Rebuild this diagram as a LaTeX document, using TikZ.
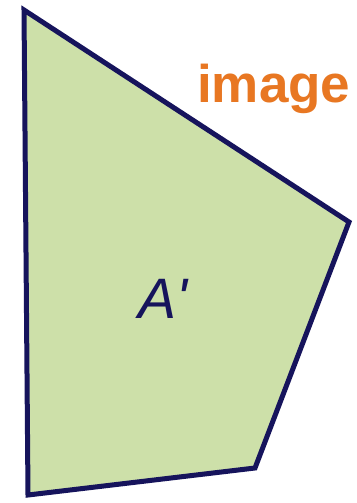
\documentclass[tikz,border=0pt]{standalone}
\usepackage{fontspec}
\setmainfont{Liberation Sans}
\definecolor{shapefill}{RGB}{205,224,169}
\definecolor{shapeline}{RGB}{22,20,92}
\definecolor{imgorange}{RGB}{232,119,34}
\tikzset{poly/.style={draw=shapeline,fill=shapefill,line width=5pt,line join=miter}}
\begin{document}
\begin{tikzpicture}[x=1pt,y=-1pt]
\useasboundingbox (0,0) rectangle (356,503);
\clip (0,0) rectangle (356,503);
\fill[white] (0,0) rectangle (356,503);
\coordinate (p1) at (24,10);
\coordinate (p2) at (349,222);
\coordinate (p3) at (255,468);
\coordinate (p4) at (28,495);
\draw[poly] (p1) -- (p2) -- (p3) -- (p4) -- cycle;
\node[anchor=base west,inner sep=0pt,text=imgorange,font=\bfseries\fontsize{53}{53}\selectfont] (img) at (197,102) {image};
\node[anchor=base,inner sep=0pt,text=shapeline,font=\itshape\fontsize{57}{57}\selectfont] (lab) at (163,318) {A\textquotesingle};
\end{tikzpicture}
\end{document}
